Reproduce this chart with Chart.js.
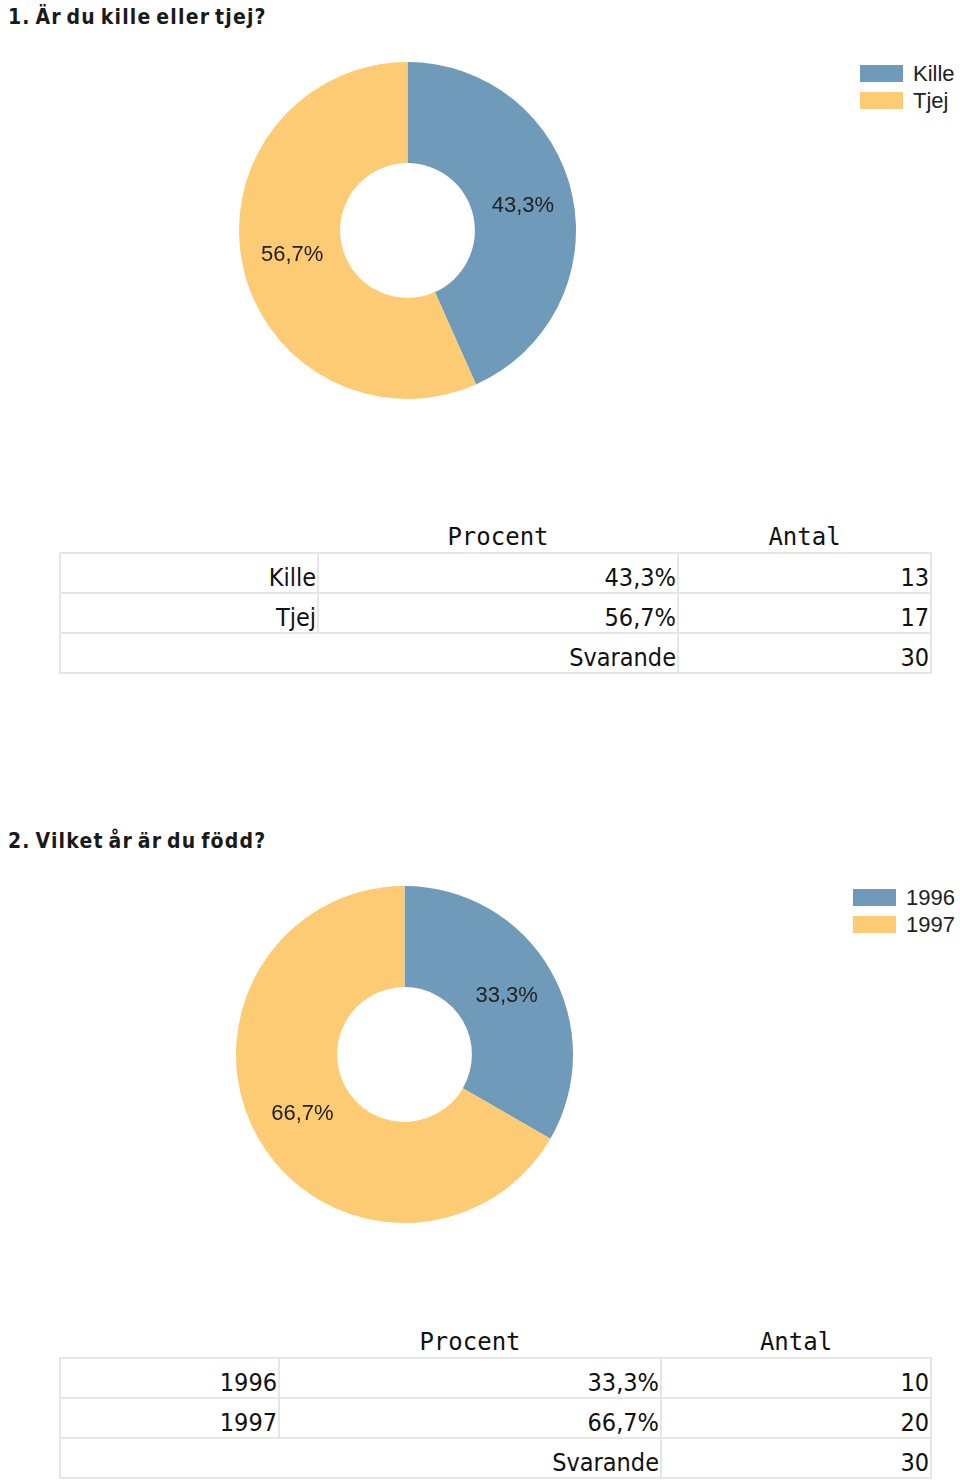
<!DOCTYPE html>
<html><head><meta charset="utf-8">
<script src="https://cdn.jsdelivr.net/npm/chart.js@4.4.1/dist/chart.umd.min.js"></script>
<style>
body{margin:0;background:#fff;width:960px;height:1482px;position:relative;overflow:hidden;}
.title{position:absolute;left:8px;font-family:"DejaVu Sans",sans-serif;font-weight:bold;font-size:21px;font-stretch:condensed;color:#1a1a1a;word-spacing:-3px;letter-spacing:1.2px;}
.legend{position:absolute;font:22px "Liberation Sans",Arial,sans-serif;color:#222;}
.legend div{height:27px;display:flex;align-items:center;}
.legend span.box{display:inline-block;width:43px;height:17px;margin-right:10px;}
canvas{position:absolute;}
table{position:absolute;left:59px;width:873px;border-collapse:collapse;font-family:"DejaVu Sans",sans-serif;font-size:25px;font-stretch:condensed;color:#111;}
td{border:2px solid #e6e6e6;height:38px;text-align:right;padding:0 1px 0 0;vertical-align:bottom;line-height:28px;}
th{font:normal 24px "DejaVu Sans Mono",monospace;color:#111;height:36px;text-align:center;vertical-align:bottom;padding:0;line-height:30px;}
</style></head><body>
<div class="title" style="top:5px">1. Är du kille eller tjej?</div>
<canvas id="c1" width="337" height="337" style="left:239px;top:62px"></canvas>
<div class="legend" id="l1" style="left:860px;top:60px"></div>
<table id="t1" style="top:516px"></table>

<div class="title" style="top:829px">2. Vilket år är du född?</div>
<canvas id="c2" width="337" height="337" style="left:236px;top:886px"></canvas>
<div class="legend" id="l2" style="left:853px;top:884px"></div>
<table id="t2" style="top:1321px"></table>
<script>
const q1Labels = ["Kille", "Tjej"];
const q1Counts = [13, 17];
const q1Percent = ["43,3%", "56,7%"];
const q1Total = 30;

const q2Labels = ["1996", "1997"];
const q2Counts = [10, 20];
const q2Percent = ["33,3%", "66,7%"];
const q2Total = 30;

const colors = ["#6f9aba", "#fdcb74"];

const labelPlugin = {
  id: 'arcLabels',
  afterDatasetsDraw(chart, args, opts) {
    const ctx = chart.ctx;
    const meta = chart.getDatasetMeta(0);
    ctx.save();
    ctx.font = '22px "Liberation Sans", Arial, sans-serif';
    ctx.fillStyle = '#222';
    ctx.textAlign = 'center';
    ctx.textBaseline = 'middle';
    meta.data.forEach((arc, i) => {
      const p = arc.tooltipPosition();
      ctx.fillText(opts.texts[i], p.x, p.y);
    });
    ctx.restore();
  }
};

function makeChart(id, labels, counts, pct) {
  new Chart(document.getElementById(id), {
    type: 'doughnut',
    data: { labels: labels, datasets: [{ data: counts, backgroundColor: colors, borderWidth: 0 }] },
    options: {
      responsive: false, animation: false, devicePixelRatio: 1,
      cutout: '40%',
      plugins: { legend: { display: false }, tooltip: { enabled: false }, arcLabels: { texts: pct } }
    },
    plugins: [labelPlugin]
  });
}
function makeLegend(id, labels) {
  const el = document.getElementById(id);
  labels.forEach((l, i) => {
    const d = document.createElement('div');
    d.innerHTML = '<span class="box" style="background:' + colors[i] + '"></span>' + l;
    el.appendChild(d);
  });
}
function makeTable(id, labels, pct, counts, total, colW) {
  const t = document.getElementById(id);
  let h = '<colgroup><col style="width:' + colW[0] + 'px"><col style="width:' + colW[1] + 'px"><col></colgroup>';
  h += '<tr><th></th><th>Procent</th><th>Antal</th></tr>';
  labels.forEach((l, i) => { h += '<tr><td>' + l + '</td><td>' + pct[i] + '</td><td>' + counts[i] + '</td></tr>'; });
  h += '<tr><td style="border-right:none"></td><td style="border-left:none">Svarande</td><td>' + total + '</td></tr>';
  t.innerHTML = h;
}
makeChart('c1', q1Labels, q1Counts, q1Percent);
makeChart('c2', q2Labels, q2Counts, q2Percent);
makeLegend('l1', q1Labels);
makeLegend('l2', q2Labels);
makeTable('t1', q1Labels, q1Percent, q1Counts, q1Total, [258, 360]);
makeTable('t2', q2Labels, q2Percent, q2Counts, q2Total, [219, 382]);
</script>
</body></html>
